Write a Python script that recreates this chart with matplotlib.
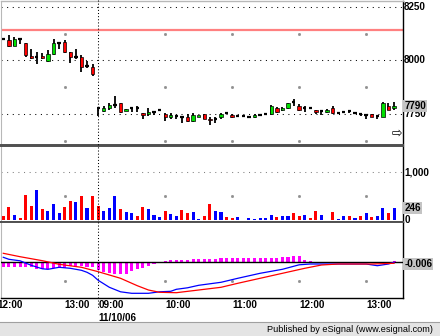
import matplotlib
matplotlib.use("Agg")
from matplotlib import pyplot as plt
from matplotlib.lines import Line2D
from matplotlib.patches import Rectangle
from matplotlib.transforms import blended_transform_factory

# 5 minute bars: 12:05-13:25 of the previous day, then 11/10/06 09:00-13:25
opens = [8099, 8093, 8069, 8098, 8080, 8021, 8018, 8021, 7998, 8030,
         8080, 8085, 8038, 8018, 8015, 7974, 7971,
         7777, 7764, 7777, 7795, 7800, 7766, 7777, 7777, 7758, 7749,
         7761, 7770, 7749, 7735, 7742, 7735, 7738, 7719, 7738, 7749,
         7730, 7728, 7735, 7756, 7745, 7740, 7740, 7737, 7735, 7745,
         7749, 7749, 7777, 7768, 7777, 7808, 7789, 7777, 7777, 7772,
         7763, 7761, 7777, 7758, 7761, 7765, 7758, 7753, 7745, 7749,
         7740, 7738, 7787, 7777]
highs = [8102, 8119, 8111, 8104, 8080, 8054, 8038, 8036, 8049, 8099,
         8085, 8096, 8038, 8052, 8026, 7998, 7984,
         7777, 7787, 7803, 7834, 7800, 7775, 7777, 7787, 7758, 7777,
         7763, 7773, 7758, 7758, 7745, 7738, 7749, 7756, 7742, 7749,
         7735, 7735, 7756, 7760, 7749, 7743, 7743, 7740, 7749, 7748,
         7752, 7791, 7782, 7784, 7800, 7820, 7797, 7787, 7779, 7772,
         7766, 7775, 7787, 7761, 7763, 7768, 7761, 7756, 7749, 7752,
         7743, 7808, 7800, 7805]
lows = [8095, 8062, 8065, 8076, 8015, 8007, 7982, 8006, 7994, 8026,
        8052, 8034, 7987, 8007, 7945, 7963, 7929,
        7742, 7761, 7772, 7777, 7758, 7763, 7761, 7761, 7727, 7742,
        7745, 7766, 7719, 7727, 7727, 7707, 7714, 7714, 7735, 7727,
        7699, 7707, 7730, 7752, 7733, 7735, 7735, 7733, 7733, 7742,
        7745, 7745, 7756, 7765, 7775, 7789, 7766, 7761, 7775, 7749,
        7745, 7758, 7749, 7749, 7758, 7758, 7749, 7742, 7730, 7735,
        7730, 7735, 7768, 7772]
closes = [8099, 8069, 8099, 8098, 8026, 8010, 8018, 8010, 8029, 8080,
          8080, 8041, 8015, 8018, 7971, 7974, 7937,
          7777, 7777, 7792, 7795, 7761, 7773, 7777, 7777, 7745, 7761,
          7761, 7770, 7735, 7745, 7742, 7735, 7719, 7745, 7745, 7730,
          7723, 7728, 7753, 7756, 7735, 7740, 7740, 7737, 7745, 7745,
          7749, 7787, 7761, 7781, 7800, 7808, 7772, 7777, 7777, 7761,
          7763, 7772, 7758, 7758, 7761, 7765, 7758, 7753, 7745, 7735,
          7740, 7803, 7772, 7789]

volumes = [84, 266, 105, 42, 524, 294, 629, 231, 189, 343,
           140, 273, 391, 377, 510, 259, 496,
           294, 189, 245, 510, 231, 161, 140, 91, 266, 231,
           105, 63, 189, 126, 91, 210, 147, 175, 21, 91,
           343, 189, 161, 63, 49, 63, 10, 42, 28, 42,
           42, 105, 63, 91, 91, 140, 84, 105, 49, 189,
           105, 10, 175, 21, 84, 84, 49, 84, 140, 70,
           91, 259, 147, 246]
volume_colors = ("rrbrrrbrbbbrrbrbrrbbbrbbrrbbbrbbrrbbrrb"
                 "brrbbbbbbbrbbrrbrrbbrbbrbrbrbbrb")

macd_idx = [0, 1, 3, 5, 7, 8, 10, 12, 14, 15, 16, 17, 19, 21, 23, 26,
            28, 30, 31, 33, 35, 39, 42, 46, 50, 53, 55, 59, 65, 67, 69, 70]
macd_vals = [5, 3, 1.5, -3, -6.5, -7, -5, -6, -8, -10, -13, -18, -25,
             -29.5, -31, -31, -29.5, -29, -27, -25.5, -23, -20, -16, -11,
             -7, -2.5, -1.7, -1.7, -1.7, -3.4, -1.7, 0]
signal_idx = [0, 3, 7, 10, 14, 17, 21, 24, 26, 28, 31, 35, 39, 42, 46,
              50, 54, 57, 60, 66, 70]
signal_vals = [9, 5.6, 1.6, -2, -5, -9.4, -16, -23.4, -27.7, -30, -30.4,
               -27.7, -25, -21, -16, -11, -6, -2.7, -1.7, -1.7, -1]
hist_vals = [-4.3, -4.5, -4.5, -4.5, -4.5, -4.5, -7, -7, -7, -6,
             -6, -6, -4, -4, -4, -5, -5,
             -8, -10, -11, -11.5, -12, -12, -9, -7, -5.5, -3.5,
             -1.5, 0.5, 1.5, 2, 2, 2.5, 2.5, 3, 3, 3.5,
             3.5, 3.5, 4, 4, 4.5, 4.5, 4.5, 4.5, 4.5, 4.5,
             4.5, 4.5, 4.5, 5, 5, 6, 6, 2, 1, 0.5,
             0.5, 0.5, 0.5, 0.5, 0.5, 0.5, 0.5, 0.5, 0.5, 0.5,
             0.5, 0.5, 0.5, 1.5]

alert_level = 8143
price_ticks = [8250, 8000, 7750]
price_labels = ["8250", "8000", "7750"]
last_price = "7790"
volume_ticks = [1000, 0]
volume_labels = ["1,000", "0"]
last_volume = "246"
last_macd = "-0.006"

hour_ticks = [-1, 11, 17, 29, 41, 53, 65]
hour_labels = ["12:00", "13:00", "09:00", "10:00", "11:00", "12:00", "13:00"]
day_break = 17
date_label = "11/10/06"

LBL = dict(family="Liberation Sans", weight="bold", size=7.1, color="black")
BOX = dict(boxstyle="square,pad=0.12", fc="#c4c4c4", ec="none")

fig = plt.figure(figsize=(4.4, 3.36), dpi=100)
fig.patch.set_facecolor("white")

left, width = 1 / 440, 402 / 440
ax_p = fig.add_axes([left, 1 - 145 / 336, width, 144 / 336])
ax_v = fig.add_axes([left, 1 - 221.5 / 336, width, 75.5 / 336], sharex=ax_p)
ax_m = fig.add_axes([left, 1 - 298 / 336, width, 76 / 336], sharex=ax_p)

n = len(closes)
xs = list(range(n))

# candles
ax_p.vlines(xs, lows, highs, color="black", lw=1.3, zorder=3)
for i in xs:
    o, c = opens[i], closes[i]
    if o == c:
        ax_p.hlines(o, i - 0.3, i + 0.3, color="black", lw=1.6, zorder=4)
    else:
        col = "#00e000" if c > o else "#ff0000"
        ax_p.bar(i, abs(c - o), bottom=min(o, c), width=0.6, color=col,
                 edgecolor="black", lw=0.5, zorder=4)
ax_p.axhline(alert_level, color="#ff8080", lw=1.6, zorder=2)

# volume
vcols = ["#ff0000" if c == "r" else "#0000ff" for c in volume_colors]
ax_v.bar(xs, volumes, width=0.55, color=vcols, zorder=3)

# macd
ax_m.bar(xs, hist_vals, width=0.55, color="#ff00ff", zorder=2)
ax_m.axhline(0, color="black", lw=1, zorder=3)
ax_m.plot(macd_idx, macd_vals, color="#0000ff", lw=0.9, zorder=4)
ax_m.plot(signal_idx, signal_vals, color="#ff0000", lw=0.9, zorder=4)

ax_p.set_xlim(-0.41, 71.6)
ax_p.set_ylim(7607, 8276.5)
ax_v.set_ylim(-31, 1551)
ax_m.set_ylim(-35.7, 40.3)

dots = (0, (1, 4.4))
for lv in price_ticks:
    ax_p.axhline(lv, color="black", lw=0.75, ls=dots, zorder=1)
ax_v.axhline(1000, color="#808080", lw=0.75, ls=dots, zorder=1)

# small grid dots at hour columns
hx = [h for h in hour_ticks if h > 0 and h != day_break]
for lv in [8125, 7875, 7625]:
    ax_p.plot(hx, [lv] * len(hx), ls="none", marker="s", ms=1, color="#909090")
ax_v.plot(hx, [500] * len(hx), ls="none", marker="s", ms=1, color="#909090")
ax_m.plot(hx, [-18.5] * len(hx), ls="none", marker="s", ms=1, color="#909090")

for ax in (ax_p, ax_v, ax_m):
    ax.set_xticks([])
    ax.set_yticks([])
    ax.spines["left"].set_color("#b8b8b8")
    ax.spines["right"].set_color("black")
    ax.spines["right"].set_linewidth(1)
    for s in ("top", "bottom"):
        ax.spines[s].set_color("#505050")
        ax.spines[s].set_linewidth(1.4)
ax_p.spines["top"].set_color("#b8b8b8")
ax_p.spines["top"].set_linewidth(1)
ax_m.spines["bottom"].set_color("black")
ax_m.spines["bottom"].set_linewidth(1)

# right axis labels
for lv, lb in zip(price_ticks, price_labels):
    ax_p.text(1.003, lv, lb, transform=ax_p.get_yaxis_transform(),
              ha="left", va="center", **LBL)
ax_p.text(1.003, closes[-1], last_price, transform=ax_p.get_yaxis_transform(),
          ha="left", va="center", bbox=BOX, zorder=5, **LBL)
ax_p.text(0.985, 0.08, "\u21e8", transform=ax_p.transAxes, ha="center",
          va="center", family="DejaVu Sans", size=9)
for lv, lb in zip(volume_ticks, volume_labels):
    ax_v.text(1.003, lv, lb, transform=ax_v.get_yaxis_transform(),
              ha="left", va="center", **LBL)
ax_v.text(1.003, volumes[-1], last_volume, transform=ax_v.get_yaxis_transform(),
          ha="left", va="center", bbox=BOX, zorder=5, **LBL)
ax_m.text(1.003, -1.7, last_macd, transform=ax_m.get_yaxis_transform(),
          ha="left", va="center", bbox=BOX, zorder=5, **LBL)

# time labels under the chart
tr = blended_transform_factory(ax_m.transData, fig.transFigure)
for h, lb in zip(hour_ticks, hour_labels):
    fig.text(h, 1 - 304.5 / 336, lb, transform=tr, ha="left", va="center", **LBL)
fig.text(day_break, 1 - 318 / 336, date_label, transform=tr, ha="left",
         va="center", **LBL)

# day separator across all panels
fig.add_artist(Line2D([day_break, day_break], [1, 1 - 308 / 336], transform=tr,
                      color="black", lw=0.75, ls=(0, (1, 2)), zorder=6))

# footer
fig.add_artist(Rectangle((0, 0), 1, 14 / 336, transform=fig.transFigure,
                         fc="#e4e4e4", ec="none"))
fig.add_artist(Line2D([0, 1], [14 / 336, 14 / 336], transform=fig.transFigure,
                      color="#a0a0a0", lw=0.8))
fig.text(433 / 440, 7 / 336, "Published by eSignal (www.esignal.com)",
         ha="right", va="center", family="Liberation Sans", size=6.6)

fig.savefig("out.png", dpi=100)
